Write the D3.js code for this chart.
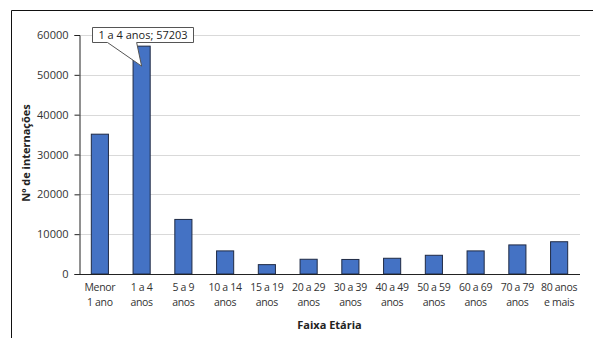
<!DOCTYPE html>
<html><head><meta charset="utf-8">
<script src="https://cdn.jsdelivr.net/npm/d3@7"></script>
<style>body{margin:0;background:#fff}svg{display:block}</style>
</head><body><svg id="c" width="593" height="338"></svg>
<script>
const categories = [["Menor","1 ano"],["1 a 4","anos"],["5 a 9","anos"],["10 a 14","anos"],["15 a 19","anos"],["20 a 29","anos"],["30 a 39","anos"],["40 a 49","anos"],["50 a 59","anos"],["60 a 69","anos"],["70 a 79","anos"],["80 anos","e mais"]];
const values = [35100, 57203, 13700, 5800, 2350, 3700, 3650, 3950, 4700, 5800, 7300, 8100];
const yTicks = [0, 10000, 20000, 30000, 40000, 50000, 60000];
const annotation = {index: 1, text: "1 a 4 anos; 57203"};

const svg = d3.select("#c");
const font = "'Open Sans', 'DejaVu Sans', sans-serif";
const m = {l: 79, r: 580, t: 35, b: 274};
const keys = categories.map((d, i) => i);
const x = d3.scaleBand().domain(keys).range([m.l, m.r]).paddingInner(0.59).paddingOuter(0.295);
const y = d3.scaleLinear().domain([0, 60000]).range([m.b, m.t]);

// frame
svg.append("path").attr("d", "M11.5,338 V10.5 H593").attr("fill", "none").attr("stroke", "#111").attr("stroke-width", 1);

// gridlines
svg.append("g").selectAll("line").data(yTicks.filter(t => t > 0)).join("line")
  .attr("x1", m.l).attr("x2", m.r).attr("y1", d => Math.round(y(d)) + 0.5).attr("y2", d => Math.round(y(d)) + 0.5)
  .attr("stroke", "#d9d9d9").attr("stroke-width", 1);

// bars
svg.append("g").selectAll("rect").data(values).join("rect")
  .attr("x", (d, i) => x(i)).attr("width", x.bandwidth())
  .attr("y", d => y(d)).attr("height", d => y(0) - y(d))
  .attr("fill", "#4472c4").attr("stroke", "#1f2a44").attr("stroke-width", 1);

// y axis
const ya = svg.append("g").attr("transform", `translate(${m.l + 0.5},0)`)
  .call(d3.axisLeft(y).tickValues(yTicks).tickSize(5).tickPadding(6).tickFormat(d3.format("d")));
ya.select(".domain").attr("stroke", "#222");
ya.selectAll(".tick line").attr("stroke", "#222");
ya.selectAll("text").attr("font-family", font).attr("font-size", 11).attr("fill", "#333");

// x axis
svg.append("line").attr("x1", m.l).attr("x2", m.r).attr("y1", m.b + 0.5).attr("y2", m.b + 0.5).attr("stroke", "#222");
const xl = svg.append("g").selectAll("text").data(categories).join("text")
  .attr("x", (d, i) => x(i) + x.bandwidth() / 2).attr("y", 291)
  .attr("text-anchor", "middle").attr("font-family", font).attr("font-size", 10.5)
  .attr("letter-spacing", -0.3).attr("fill", "#333");
xl.append("tspan").attr("x", (d, i) => x(i) + x.bandwidth() / 2).text(d => d[0]);
xl.append("tspan").attr("x", (d, i) => x(i) + x.bandwidth() / 2).attr("dy", 15).text(d => d[1]);

// axis titles
svg.append("text").attr("x", (m.l + m.r) / 2).attr("y", 329).attr("text-anchor", "middle")
  .attr("font-family", font).attr("font-size", 11).attr("font-weight", "bold").attr("fill", "#222").text("Faixa Etária");
svg.append("text").attr("transform", `translate(30,153) rotate(-90)`).attr("text-anchor", "middle")
  .attr("font-family", font).attr("font-size", 11).attr("font-weight", "bold").attr("fill", "#222").text("Nº de internações");

// callout
const ax = x(annotation.index) + x.bandwidth() / 2;
const ay = y(values[annotation.index]) + 20;
const bx0 = 92.5, bx1 = 193.5, by0 = 27.5, by1 = 42.5;
svg.append("path")
  .attr("d", `M${bx0},${by0} H${bx1} V${by1} H${ax - 5} L${ax},${ay} L${bx0 + 15},${by1} H${bx0} Z`)
  .attr("fill", "#fff").attr("stroke", "#555").attr("stroke-width", 1);
svg.append("text").attr("x", (bx0 + bx1) / 2).attr("y", by1 - 4).attr("text-anchor", "middle")
  .attr("font-family", font).attr("font-size", 11).attr("fill", "#222").text(annotation.text);
</script></body></html>
